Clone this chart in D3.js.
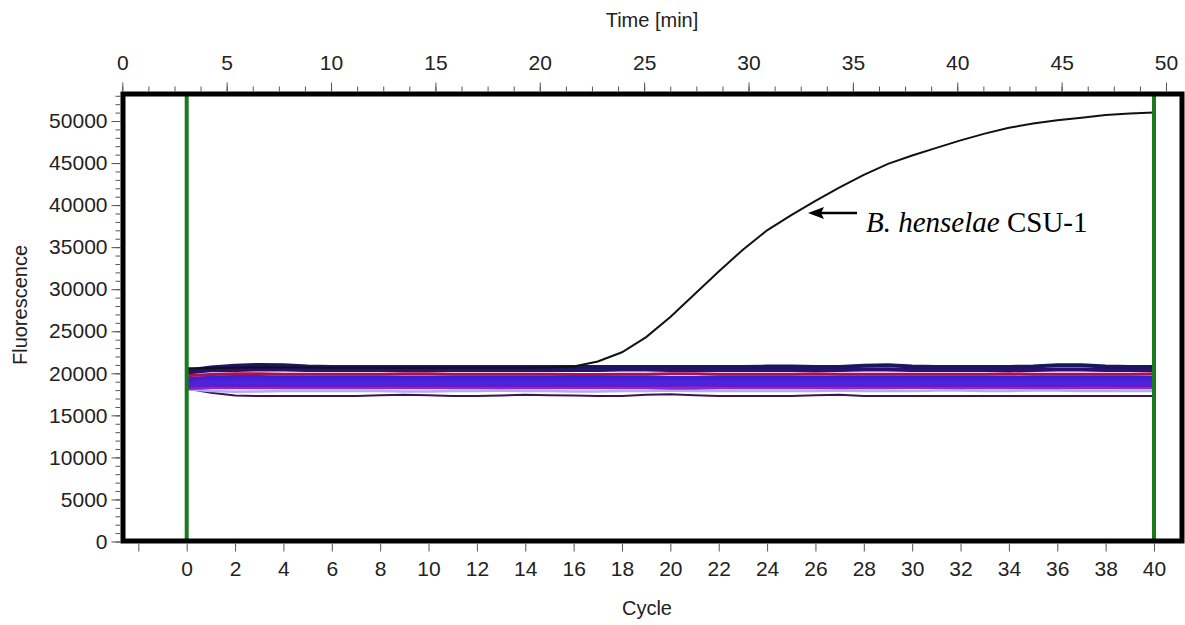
<!DOCTYPE html>
<html><head><meta charset="utf-8">
<script src="https://cdn.jsdelivr.net/npm/d3@7"></script>
<style>
html,body{margin:0;padding:0;background:#fff;}
svg{display:block;}
</style></head>
<body>
<svg id="c" width="1185" height="625"></svg>
<script>
// ---------- data ----------
const cycles = d3.range(0, 41);
const cycleTicks = [-2,0,2,4,6,8,10,12,14,16,18,20,22,24,26,28,30,32,34,36,38,40];
const timeTicks = [0,5,10,15,20,25,30,35,40,45,50];
const fluorTicks = [0,5000,10000,15000,20000,25000,30000,35000,40000,45000,50000];

const henselae = [20600,20600,20650,20700,20700,20700,20650,20650,20650,20650,20650,20650,20650,20650,20650,20700,20800,21400,22500,24300,26700,29400,32100,34700,37000,38800,40500,42100,43600,44900,45900,46800,47700,48500,49200,49700,50100,50400,50700,50900,51000];

const neg1 = [20300,20700,20900,21000,20950,20800,20750,20750,20750,20750,20750,20750,20750,20750,20750,20750,20750,20750,20750,20750,20750,20750,20750,20750,20800,20800,20750,20750,20900,20950,20800,20750,20750,20750,20750,20800,20950,20950,20800,20750,20750];
const neg2 = [20100,20350,20400,20450,20450,20400,20400,20400,20400,20400,20400,20400,20400,20400,20400,20400,20400,20400,20450,20450,20400,20400,20400,20400,20400,20400,20400,20400,20450,20450,20400,20400,20400,20400,20400,20400,20450,20450,20400,20400,20400];
const neg3 = [19700,19850,19950,19950,19900,19900,19900,19900,19900,19950,19950,19900,19900,19900,19900,19900,19850,19850,19900,19900,19950,19950,19900,19900,19900,19900,19950,19900,19900,19900,19900,19900,19900,19900,19950,19900,19900,19900,19900,19900,19950];
const neg4 = [19300,19500,19550,19550,19500,19500,19500,19500,19500,19500,19500,19500,19500,19500,19500,19500,19500,19500,19500,19500,19450,19450,19500,19500,19500,19500,19500,19500,19500,19500,19500,19500,19500,19500,19500,19500,19500,19500,19500,19500,19500];
const neg5 = [19000,19200,19250,19200,19200,19200,19200,19200,19200,19200,19200,19200,19200,19200,19200,19200,19200,19200,19200,19200,19200,19200,19200,19200,19200,19200,19200,19200,19200,19200,19200,19250,19250,19200,19200,19200,19200,19200,19200,19200,19200];
const neg6 = [18800,18900,18900,18900,18900,18900,18900,18900,18900,18900,18900,18900,18900,18900,18900,18900,18900,18900,18900,18900,18900,18900,18900,18900,18900,18900,18900,18900,18900,18900,18900,18900,18900,18900,18900,18900,18900,18900,18900,18900,18900];
const neg7 = [18500,18600,18650,18600,18600,18600,18600,18600,18600,18600,18600,18600,18600,18600,18600,18600,18600,18600,18600,18600,18600,18650,18650,18600,18600,18600,18600,18600,18600,18600,18600,18600,18600,18600,18600,18600,18600,18650,18650,18600,18600];
const neg8 = [18200,18300,18300,18300,18300,18300,18300,18300,18300,18300,18300,18300,18300,18300,18300,18300,18300,18300,18300,18300,18250,18250,18300,18300,18300,18300,18300,18300,18300,18300,18350,18350,18300,18300,18300,18300,18300,18300,18350,18300,18300];
const neg9 = [18100,17900,17800,17850,17900,17900,17900,17900,17900,17850,17850,17900,17900,17950,17900,17900,17850,17850,17900,17900,17950,17900,17900,17900,17900,17900,17900,17950,17900,17900,17900,17950,17950,17900,17900,17950,17950,17900,17900,17900,17900];
const neg10 = [18200,17700,17350,17300,17300,17300,17300,17300,17400,17450,17400,17300,17300,17350,17450,17400,17350,17300,17300,17450,17500,17400,17300,17300,17300,17300,17400,17450,17300,17300,17300,17300,17300,17300,17300,17300,17300,17300,17300,17300,17300];

const negSeries = [neg10, neg9, neg8, neg7, neg6, neg5, neg4, neg3, neg2, neg1];
const negColors = ["#3a1650","#b4a8f8","#8a28d8","#6a18c0","#4128e6","#5a1ed0","#3a22d8","#b0104a","#2c0e78","#1b1660"];
const negWidths = [2,2.5,3.5,4,4,4,4,3,4,4];

// ---------- layout ----------
const svg = d3.select("#c");
const frame = {l:123, t:94, r:1182, b:541};
const x = d3.scaleLinear().domain([0,40]).range([186.7,1154]);
const xt = d3.scaleLinear().domain([0,50]).range([122.3,1166]);
const y = d3.scaleLinear().domain([0,50000]).range([541.5,121]);
const font = "'Liberation Sans', Arial, sans-serif";

// data lines
const line = d3.line().x((d,i)=>x(cycles[i])).y(d=>y(d));
negSeries.forEach((s,k)=>{
  svg.append("path").attr("d", line(s)).attr("fill","none")
    .attr("stroke", negColors[k]).attr("stroke-width", negWidths[k]);
});
svg.append("path").attr("d", line(henselae)).attr("fill","none")
  .attr("stroke","#111").attr("stroke-width",2);

// green threshold lines
[0,40].forEach(c=>{
  svg.append("line").attr("x1",x(c)).attr("x2",x(c))
    .attr("y1",frame.t).attr("y2",frame.b)
    .attr("stroke","#1b7a1b").attr("stroke-width",4);
});

// frame
svg.append("rect").attr("x",frame.l).attr("y",frame.t)
  .attr("width",frame.r-frame.l).attr("height",frame.b-frame.t)
  .attr("fill","none").attr("stroke","#000").attr("stroke-width",5);

// bottom axis
const gb = svg.append("g").attr("transform",`translate(0,${frame.b+2.5})`)
  .call(d3.axisBottom(x).tickValues(cycleTicks).tickSize(8).tickPadding(10)
    .tickFormat(d=> d<0 ? "" : d));
// left axis
const gl = svg.append("g").attr("transform",`translate(${frame.l-2.5},0)`)
  .call(d3.axisLeft(y).tickValues(fluorTicks).tickSize(9).tickPadding(4).tickFormat(d3.format("d")));
const glm = svg.append("g").attr("transform",`translate(${frame.l-2.5},0)`)
  .call(d3.axisLeft(y).tickValues(d3.range(0,53001,1000)).tickSize(5).tickFormat(""));
// top axis
const gt = svg.append("g").attr("transform",`translate(0,${frame.t-2.5})`)
  .call(d3.axisTop(xt).tickValues(timeTicks).tickSize(9).tickPadding(13));
const gtm = svg.append("g").attr("transform",`translate(0,${frame.t-2.5})`)
  .call(d3.axisTop(xt).tickValues(d3.range(0,50.01,1.25)).tickSize(5).tickFormat(""));

[gb,gl,glm,gt,gtm].forEach(g=>{
  g.select(".domain").remove();
  g.selectAll(".tick line").attr("stroke","#555").attr("stroke-width",1);
  g.selectAll("text").attr("font-family",font).attr("font-size",21).attr("fill","#222");
});

// axis titles
svg.append("text").attr("x",652).attr("y",27).attr("text-anchor","middle")
  .attr("font-family",font).attr("font-size",20).attr("fill","#222").text("Time [min]");
svg.append("text").attr("x",647).attr("y",615).attr("text-anchor","middle")
  .attr("font-family",font).attr("font-size",20).attr("fill","#222").text("Cycle");
svg.append("text").attr("transform","translate(27,305) rotate(-90)").attr("text-anchor","middle")
  .attr("font-family",font).attr("font-size",20).attr("fill","#222").text("Fluorescence");

// annotation
const ay = 213;
svg.append("line").attr("x1",857).attr("x2",820).attr("y1",ay).attr("y2",ay)
  .attr("stroke","#000").attr("stroke-width",2.5);
svg.append("path").attr("d",`M808,${ay} L824,${ay-6} L821,${ay} L824,${ay+6} Z`).attr("fill","#000");
const t = svg.append("text").attr("x",866).attr("y",232)
  .attr("font-family","'Liberation Serif','Times New Roman',serif").attr("font-size",29).attr("fill","#000");
t.append("tspan").attr("font-style","italic").text("B. henselae");
t.append("tspan").text(" CSU-1");
</script>
</body></html>
